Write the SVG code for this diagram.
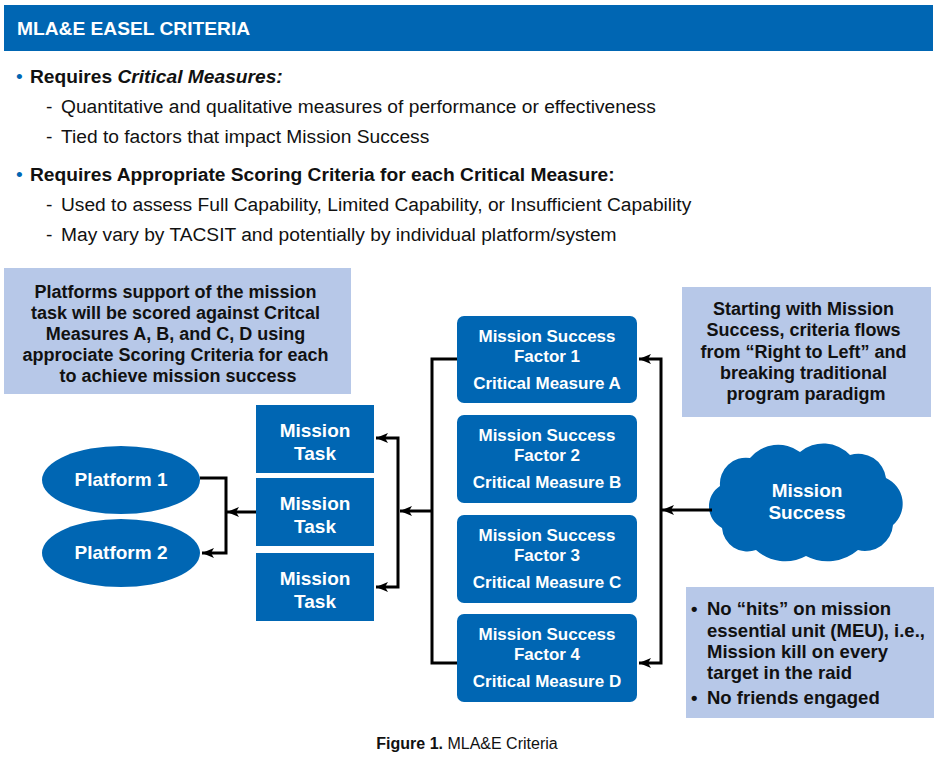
<svg xmlns="http://www.w3.org/2000/svg" width="940" height="767" viewBox="0 0 940 767">
<defs>
<style>
.t{font-family:"Liberation Sans",Arial,sans-serif}
.b{font-weight:bold}
.w{fill:#ffffff}
.k{fill:#111111}
.blue{fill:#0066B3}
.lite{fill:#B7C8E8}
.c{stroke:#000;stroke-width:3;fill:none}
</style>
<marker id="ah" markerUnits="userSpaceOnUse" markerWidth="14" markerHeight="10" refX="12" refY="5" orient="auto-start-reverse">
<path d="M0,0 L12,5 L0,10 L3,5 z" fill="#000"/>
</marker>
</defs>
<rect width="940" height="767" fill="#ffffff"/>
<g id="header">
<rect x="4" y="5" width="929" height="46" class="blue"/>
<text x="17" y="35" class="t b w" font-size="19.2">MLA&amp;E EASEL CRITERIA</text>
</g>
<g id="bullets" class="t" font-size="19.2">
<text x="16" y="83" fill="#0066B3">•</text>
<text x="30" y="83" class="b k">Requires <tspan font-style="italic">Critical Measures:</tspan></text>
<text x="46" y="113" class="k">-</text>
<text x="61" y="113" class="k">Quantitative and qualitative measures of performance or effectiveness</text>
<text x="46" y="143" class="k">-</text>
<text x="61" y="143" class="k">Tied to factors that impact Mission Success</text>
<text x="16" y="181" fill="#0066B3">•</text>
<text x="30" y="181" class="b k">Requires Appropriate Scoring Criteria for each Critical Measure:</text>
<text x="46" y="211" class="k">-</text>
<text x="61" y="211" class="k">Used to assess Full Capability, Limited Capability, or Insufficient Capability</text>
<text x="46" y="241" class="k">-</text>
<text x="61" y="241" class="k">May vary by TACSIT and potentially by individual platform/system</text>
</g>
<g id="note-left">
<rect x="4" y="268" width="347" height="126" class="lite"/>
<text class="t b k" font-size="18" text-anchor="middle">
<tspan x="178" y="298">Platforms support of the mission</tspan>
<tspan x="178" y="319">task will be scored against Critcal</tspan>
<tspan x="178" y="340">Measures A, B, and C, D using</tspan>
<tspan x="178" y="361">approciate Scoring Criteria for each</tspan>
<tspan x="178" y="382">to achieve mission success</tspan>
</text>
</g>
<g id="note-right">
<rect x="682" y="287" width="249" height="130" class="lite"/>
<text class="t b k" font-size="18" text-anchor="middle">
<tspan x="806" y="315">Starting with Mission</tspan>
<tspan x="806" y="336">Success, criteria flows</tspan>
<tspan x="806" y="358">from “Right to Left” and</tspan>
<tspan x="806" y="379">breaking traditional</tspan>
<tspan x="806" y="400">program paradigm</tspan>
</text>
</g>
<g id="note-bottom">
<rect x="686" y="587" width="248" height="131" class="lite"/>
<g class="t b k" font-size="18.5">
<text x="691" y="615">•</text>
<text x="707" y="615">No “hits” on mission</text>
<text x="707" y="637">essential unit (MEU), i.e.,</text>
<text x="707" y="658">Mission kill on every</text>
<text x="707" y="679">target in the raid</text>
<text x="691" y="704">•</text>
<text x="707" y="704">No friends engaged</text>
</g>
</g>
<g id="platform1">
<ellipse cx="121" cy="480" rx="79" ry="34" class="blue"/>
<text x="121" y="486" class="t b w" font-size="19" text-anchor="middle">Platform 1</text>
</g>
<g id="platform2">
<ellipse cx="121" cy="553" rx="79" ry="34" class="blue"/>
<text x="121" y="559" class="t b w" font-size="19" text-anchor="middle">Platform 2</text>
</g>
<g id="task1">
<rect x="256" y="405" width="118" height="68" class="blue"/>
<text class="t b w" font-size="19" text-anchor="middle"><tspan x="315" y="437">Mission</tspan><tspan x="315" y="460">Task</tspan></text>
</g>
<g id="task2">
<rect x="256" y="478" width="118" height="68" class="blue"/>
<text class="t b w" font-size="19" text-anchor="middle"><tspan x="315" y="510">Mission</tspan><tspan x="315" y="533">Task</tspan></text>
</g>
<g id="task3">
<rect x="256" y="553" width="118" height="68" class="blue"/>
<text class="t b w" font-size="19" text-anchor="middle"><tspan x="315" y="585">Mission</tspan><tspan x="315" y="608">Task</tspan></text>
</g>
<g id="factor1">
<rect x="457" y="316" width="180" height="87" rx="7" class="blue"/>
<text class="t b w" font-size="17" text-anchor="middle"><tspan x="547" y="342">Mission Success</tspan><tspan x="547" y="362">Factor 1</tspan><tspan x="547" y="389">Critical Measure A</tspan></text>
</g>
<g id="factor2">
<rect x="457" y="415" width="180" height="88" rx="7" class="blue"/>
<text class="t b w" font-size="17" text-anchor="middle"><tspan x="547" y="441">Mission Success</tspan><tspan x="547" y="461">Factor 2</tspan><tspan x="547" y="488">Critical Measure B</tspan></text>
</g>
<g id="factor3">
<rect x="457" y="515" width="180" height="88" rx="7" class="blue"/>
<text class="t b w" font-size="17" text-anchor="middle"><tspan x="547" y="541">Mission Success</tspan><tspan x="547" y="561">Factor 3</tspan><tspan x="547" y="588">Critical Measure C</tspan></text>
</g>
<g id="factor4">
<rect x="457" y="614" width="180" height="88" rx="7" class="blue"/>
<text class="t b w" font-size="17" text-anchor="middle"><tspan x="547" y="640">Mission Success</tspan><tspan x="547" y="660">Factor 4</tspan><tspan x="547" y="687">Critical Measure D</tspan></text>
</g>
<g id="mission-success">
<path class="blue" d="M720,486 A26,26 0 0 1 750,458 A36.8,36.8 0 0 1 800,452 A36.4,36.4 0 0 1 850,455 A27.8,27.8 0 0 1 886,478 A28.2,28.2 0 0 1 893,525 A28.1,28.1 0 0 1 858,550 A46.8,46.8 0 0 1 806,556 A43.7,43.7 0 0 1 756,550 A25.5,25.5 0 0 1 722,528 A24.4,24.4 0 0 1 720,486 z"/>
<text class="t b w" font-size="19" text-anchor="middle"><tspan x="807" y="497">Mission</tspan><tspan x="807" y="519">Success</tspan></text>
</g>
<g id="connectors">
<line x1="256" y1="512" x2="227" y2="512" class="c" marker-end="url(#ah)"/>
<path d="M200,478 H226 V553 H202" class="c" marker-end="url(#ah)"/>
<line x1="432" y1="511" x2="400" y2="511" class="c" marker-end="url(#ah)"/>
<path d="M376,438 H398 V587 H376" class="c" marker-start="url(#ah)" marker-end="url(#ah)"/>
<path d="M457,359 H432 V663 H457" class="c"/>
<line x1="712" y1="510" x2="662" y2="510" class="c" marker-end="url(#ah)"/>
<path d="M639,359 H661 V663 H639" class="c" marker-start="url(#ah)" marker-end="url(#ah)"/>
</g>
<g id="caption">
<text x="467" y="749" class="t k" font-size="16" text-anchor="middle"><tspan font-weight="bold">Figure 1.</tspan> MLA&amp;E Criteria</text>
</g>
</svg>
